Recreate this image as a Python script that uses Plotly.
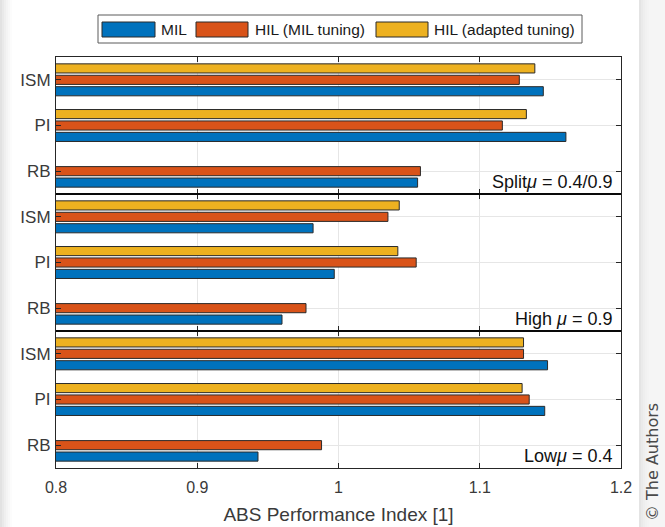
import plotly.graph_objects as go
from plotly.subplots import make_subplots

# Controllers shown on each panel (bottom to top)
controllers = ["RB", "PI", "ISM"]

# Panel definitions: friction condition label, top to bottom
panels = ["Split<i>μ</i> = 0.4/0.9", "High <i>μ</i> = 0.9", "Low<i>μ</i> = 0.4"]

# ABS performance index per panel, ordered RB, PI, ISM
mil_split = [1.056, 1.161, 1.145]
hil_mil_split = [1.058, 1.116, 1.128]
hil_adapt_split = [None, 1.133, 1.139]

mil_high = [0.960, 0.997, 0.982]
hil_mil_high = [0.977, 1.055, 1.035]
hil_adapt_high = [None, 1.042, 1.043]

mil_low = [0.943, 1.146, 1.148]
hil_mil_low = [0.988, 1.135, 1.131]
hil_adapt_low = [None, 1.130, 1.131]

series_names = ["MIL", "HIL (MIL tuning)", "HIL (adapted tuning)"]
series_colors = ["#0072BD", "#D95319", "#EDB120"]
series_offsets = [-0.25, 0.0, 0.25]

panel_data = [
    [mil_split, hil_mil_split, hil_adapt_split],
    [mil_high, hil_mil_high, hil_adapt_high],
    [mil_low, hil_mil_low, hil_adapt_low],
]

x_ticks = [0.8, 0.9, 1.0, 1.1, 1.2]
x_tick_text = ["0.8", "0.9", "1", "1.1", "1.2"]

FONT = "Liberation Sans, Arial, sans-serif"
AXIS_COLOR = "#262626"
LABEL_COLOR = "#3a3a3a"

W, H = 665, 527
L, R, T, B = 56, 621, 57, 468


def px(x):
    return (x - L) / (R - L)


def py(y):
    return (B - y) / (B - T)


fig = make_subplots(rows=3, cols=1, shared_xaxes=True, vertical_spacing=0)

for row, series_set in enumerate(panel_data, start=1):
    for name, color, off, values in zip(series_names, series_colors, series_offsets, series_set):
        ys = [i + 1 + off for i, v in enumerate(values) if v is not None]
        xs = [v for v in values if v is not None]
        fig.add_trace(
            go.Bar(
                x=xs,
                y=ys,
                orientation="h",
                width=0.2,
                name=name,
                marker=dict(color=color, line=dict(color="#2a2a2a", width=1)),
                showlegend=False,
            ),
            row=row,
            col=1,
        )
    fig.update_yaxes(
        range=[0.5, 3.5],
        tickvals=[1, 2, 3],
        ticktext=controllers,
        ticks="inside",
        ticklen=5,
        tickcolor=AXIS_COLOR,
        showline=True,
        linecolor=AXIS_COLOR,
        linewidth=1,
        mirror="ticks",
        showgrid=True,
        gridcolor="#e6e6e6",
        zeroline=False,
        automargin=False,
        tickfont=dict(family=FONT, size=17, color=LABEL_COLOR),
        ticklabelstandoff=1,
        row=row,
        col=1,
    )
    fig.update_xaxes(
        range=[0.8, 1.2],
        tickvals=x_ticks,
        ticktext=x_tick_text,
        ticks="inside",
        ticklen=5,
        tickcolor=AXIS_COLOR,
        showline=True,
        linecolor=AXIS_COLOR,
        linewidth=1,
        mirror="ticks",
        showgrid=True,
        gridcolor="#e6e6e6",
        zeroline=False,
        automargin=False,
        showticklabels=(row == 3),
        tickfont=dict(family=FONT, size=16, color=LABEL_COLOR),
        row=row,
        col=1,
    )
    axis_suffix = "" if row == 1 else str(row)
    fig.add_annotation(
        text=panels[row - 1],
        xref=f"x{axis_suffix} domain",
        yref=f"y{axis_suffix} domain",
        x=0.988,
        y=0.0,
        xanchor="right",
        yanchor="bottom",
        showarrow=False,
        font=dict(family=FONT, size=18, color="#111111"),
    )

fig.update_xaxes(
    title=dict(text="ABS Performance Index [1]", font=dict(family=FONT, size=19, color=LABEL_COLOR), standoff=12),
    ticklabelstandoff=5,
    row=3,
    col=1,
)

shapes = []

# Soft shaded strips at the page edges
left_shades = ["#e2e2e2", "#e9e9e9", "#efefef", "#f4f4f4", "#f8f8f8", "#fcfcfc"]
for i, c in enumerate(left_shades):
    shapes.append(dict(type="rect", xref="paper", yref="paper",
                       x0=px(i * 2), x1=px(i * 2 + 2), y0=py(H), y1=py(0),
                       fillcolor=c, line=dict(width=0), layer="below"))
right_shades = ["#e4e4e4", "#eaeaea", "#eeeeee", "#f1f1f1", "#f3f3f3", "#f5f5f5"]
for i, c in enumerate(right_shades):
    x0 = 639 + i * 2
    x1 = x0 + 2 if i < len(right_shades) - 1 else W
    shapes.append(dict(type="rect", xref="paper", yref="paper",
                       x0=px(x0), x1=px(x1), y0=py(H), y1=py(0),
                       fillcolor=c, line=dict(width=0), layer="below"))

# Legend box with wide colour swatches
shapes.append(dict(type="rect", xref="paper", yref="paper",
                   x0=px(98), x1=px(582), y0=py(43), y1=py(15),
                   fillcolor="white", line=dict(color="#5a5a5a", width=1)))
swatches = [(102, 155, 159), (196, 248, 253), (376, 428, 432)]
for (sx0, sx1, tx), name, color in zip(swatches, series_names, series_colors):
    shapes.append(dict(type="rect", xref="paper", yref="paper",
                       x0=px(sx0), x1=px(sx1), y0=py(37), y1=py(22),
                       fillcolor=color, line=dict(color="#2a2a2a", width=1)))
    fig.add_annotation(text=name, xref="paper", yref="paper",
                       x=px(tx), y=py(29.5), xanchor="left", yanchor="middle",
                       showarrow=False, font=dict(family=FONT, size=15.5, color="#1a1a1a"))

# Separator lines between the stacked panels
for yline in [py(T + (B - T) / 3), py(T + 2 * (B - T) / 3)]:
    shapes.append(dict(type="line", xref="paper", yref="paper",
                       x0=0, x1=1, y0=yline, y1=yline,
                       line=dict(color="#000000", width=1.3)))

fig.add_annotation(text="© The Authors", xref="paper", yref="paper",
                   x=px(652), y=py(462), xanchor="center", yanchor="middle",
                   textangle=-90, showarrow=False,
                   font=dict(family="DejaVu Sans, sans-serif", size=16, color="#4a4a4a"))

fig.update_layout(
    width=W,
    height=H,
    margin=dict(l=L, r=W - R, t=T, b=H - B, autoexpand=False),
    paper_bgcolor="white",
    plot_bgcolor="white",
    barmode="overlay",
    shapes=shapes,
    showlegend=False,
)

fig.write_html("out.html")
